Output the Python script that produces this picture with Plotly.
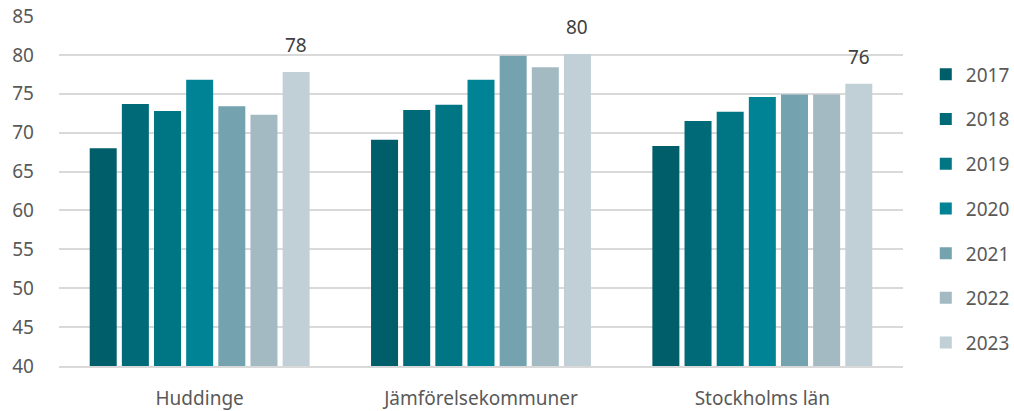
import plotly.graph_objects as go

categories = ["Huddinge", "Jämförelsekommuner", "Stockholms län"]
years = ["2017", "2018", "2019", "2020", "2021", "2022", "2023"]
values = {
    "2017": [68.0, 69.1, 68.3],
    "2018": [73.7, 72.9, 71.5],
    "2019": [72.8, 73.6, 72.7],
    "2020": [76.8, 76.8, 74.6],
    "2021": [73.4, 79.9, 74.9],
    "2022": [72.3, 78.4, 74.9],
    "2023": [77.8, 80.1, 76.3],
}
labeled_year = "2023"
y_ticks = [40, 45, 50, 55, 60, 65, 70, 75, 80, 85]
colors = ["#005E6B", "#006A78", "#007684", "#008394", "#74A2AF", "#A3BAC3", "#C1D0D7"]

FONT = "Noto Sans, Open Sans, sans-serif"
W, H = 1014, 411
ML, MR, MT, MB = 59, 111, 16, 45
BARGAP, BARGROUPGAP = 0.2, 0.16

fig = go.Figure()
for yr, col in zip(years, colors):
    fig.add_trace(go.Bar(
        x=categories, y=values[yr], name=yr, marker_color=col,
        marker_line_width=0, legendgroup=yr,
    ))

# value labels on the labeled series, placed above its bars
plot_w = W - ML - MR
slot = plot_w / len(categories) * (1 - BARGAP) / len(years)
idx = years.index(labeled_year)
xshift = (idx - (len(years) - 1) / 2) * slot
for cat, v in zip(categories, values[labeled_year]):
    fig.add_annotation(x=cat, y=v, xref="x", yref="y", text=f"{v:.0f}",
                       showarrow=False, xshift=xshift, yshift=27,
                       font=dict(size=19, color="#404040", family=FONT))

fig.update_layout(
    width=W, height=H,
    margin=dict(l=ML, r=MR, t=MT, b=MB, autoexpand=False),
    paper_bgcolor="white", plot_bgcolor="white",
    barmode="group", bargap=BARGAP, bargroupgap=BARGROUPGAP,
    font=dict(family=FONT, color="#595959", size=19),
    legend=dict(xref="container", x=0.913, y=0.45, xanchor="left",
                yanchor="middle",
                font=dict(size=19, color="#595959"), tracegroupgap=17,
                itemwidth=30, traceorder="grouped"),
)
fig.update_yaxes(range=[y_ticks[0], y_ticks[-1]], tickmode="array",
                 tickvals=y_ticks, showgrid=True, gridcolor="#D9D9D9",
                 gridwidth=1.5, zeroline=False, ticks="", ticklabelstandoff=24,
                 tickfont=dict(size=19, color="#595959"), showline=False,
                 automargin=False, ticklabeloverflow="allow")
fig.update_xaxes(showline=True, linecolor="#D9D9D9", linewidth=1.5, ticks="",
                 tickfont=dict(size=19, color="#595959"), ticklabelstandoff=14,
                 automargin=False)

fig.write_html("out.html", config={"displayModeBar": False},
               post_script="document.body.style.margin='0';")
